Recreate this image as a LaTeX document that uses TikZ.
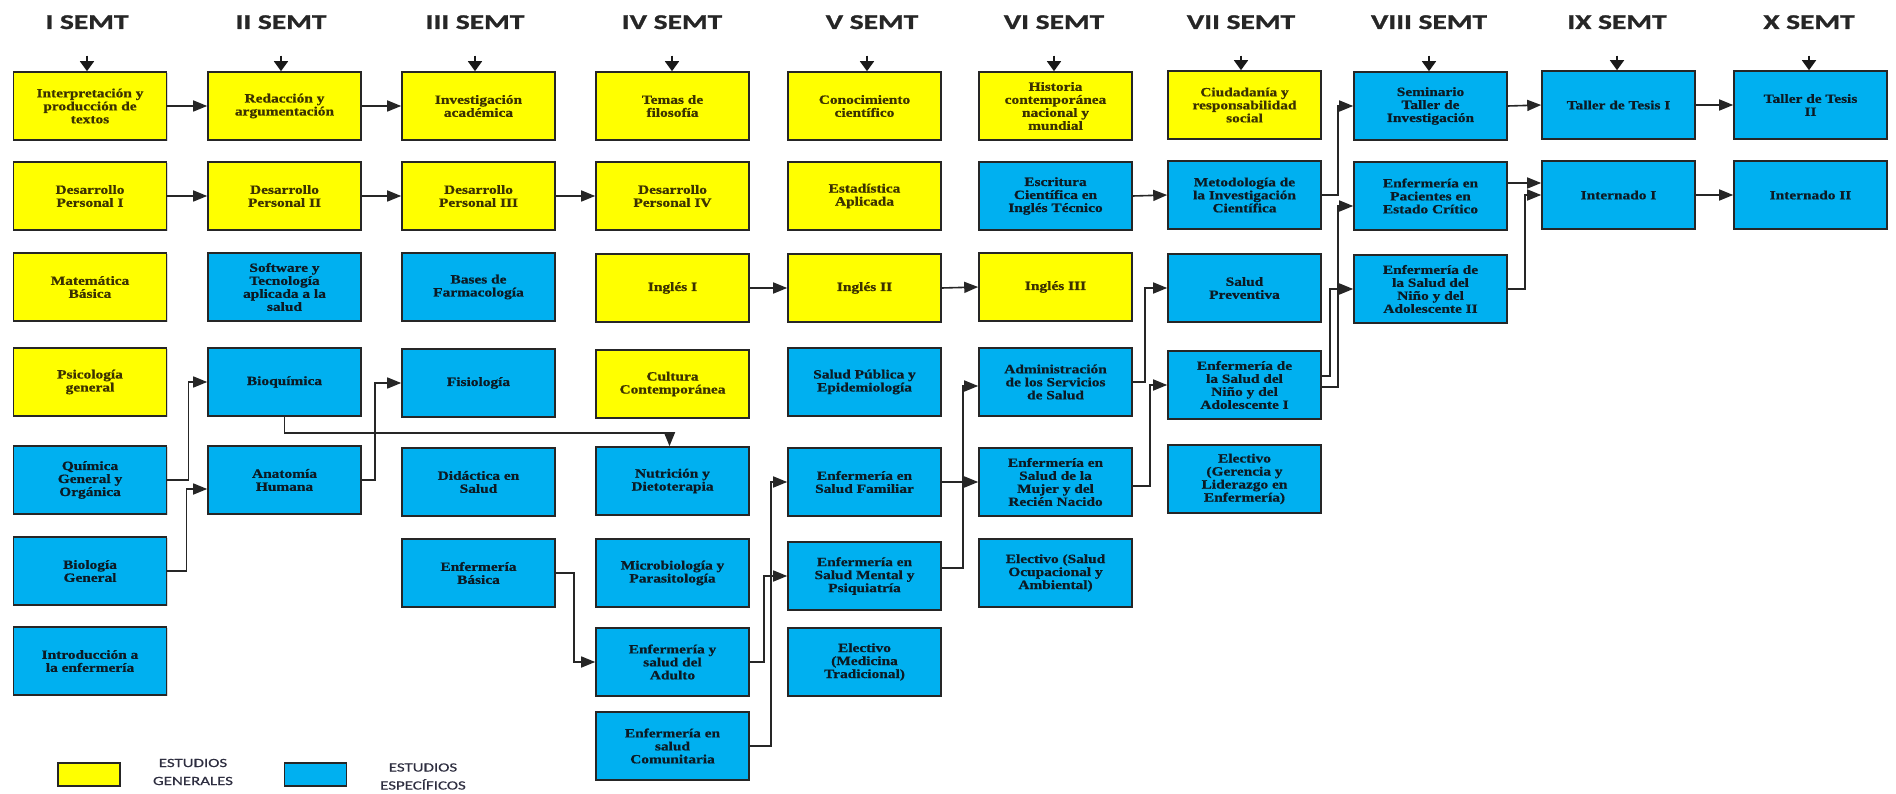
\documentclass[tikz,border=0pt]{standalone}
\usepackage{fontspec}
\setmainfont{Liberation Serif}[FakeStretch=1.22, BoldFeatures={FakeBold=0.8}]
\newfontfamily\semfont{Carlito}[FakeStretch=1.4, BoldFeatures={FakeBold=1.2}]
\newfontfamily\leyfont{Carlito}[FakeStretch=1.35, FakeBold=0.6]
\usetikzlibrary{arrows.meta,shadows}
\definecolor{amarillo}{HTML}{FFFF00}
\definecolor{celeste}{HTML}{00B0F0}
\definecolor{textoamarillo}{HTML}{3C3200}
\definecolor{textocuadro}{HTML}{0C1A24}
\definecolor{textoleyenda}{HTML}{2E2E40}

\begin{document}
\begin{tikzpicture}[x=1pt, y=-1pt,
	curso/.style={rectangle, draw=black!85, line width=1.6pt, minimum width=153pt, minimum height=68pt, inner sep=1pt, align=center, font=\bfseries\fontsize{12.6}{13}\selectfont, drop shadow={shadow xshift=1pt, shadow yshift=-1pt, opacity=0.3}},
	general/.style={curso, fill=amarillo, text=textoamarillo},
	especifico/.style={curso, fill=celeste, text=textocuadro},
	semt/.style={font=\semfont\bfseries\fontsize{21}{24}\selectfont, text=black!85, anchor=base},
	inicio/.style={-{Triangle[width=14pt,length=10pt]}, line width=1.6pt, black!90, shorten <=23pt},
	enlace/.style={-{Triangle[width=11pt,length=14pt]}, line width=1.6pt, black!85},
	muestra/.style={rectangle, draw=black!85, line width=1.6pt, minimum width=62pt, minimum height=23pt},
	leyenda/.style={align=center, text=textoleyenda, font=\leyfont\fontsize{12.5}{18}\selectfont}]
	\useasboundingbox (0,0) rectangle (1896,794);
	% Semestres:
	\node[semt] (semI) at (87,29) {I SEMT};
	\node[semt] (semII) at (281,29) {II SEMT};
	\node[semt] (semIII) at (475,29) {III SEMT};
	\node[semt] (semIV) at (672,29) {IV SEMT};
	\node[semt] (semV) at (872,29) {V SEMT};
	\node[semt] (semVI) at (1054,29) {VI SEMT};
	\node[semt] (semVII) at (1241,29) {VII SEMT};
	\node[semt] (semVIII) at (1429,29) {VIII SEMT};
	\node[semt] (semIX) at (1617,29) {IX SEMT};
	\node[semt] (semX) at (1809,29) {X SEMT};
	% I semestre:
	\node[general] (interp) at (90,106) {Interpretación y\\producción de\\textos};
	\node[general] (dpI) at (90,196) {Desarrollo\\Personal I};
	\node[general] (mate) at (90,287) {Matemática\\Básica};
	\node[general] (psico) at (90,382) {Psicología\\general};
	\node[especifico] (quim) at (90,480) {Química\\General y\\Orgánica};
	\node[especifico] (biol) at (90,571) {Biología\\General};
	\node[especifico] (intro) at (90,661) {Introducción a\\la enfermería};
	% II semestre:
	\node[general] (redac) at (284.5,106) {Redacción y\\argumentación};
	\node[general] (dpII) at (284.5,196) {Desarrollo\\Personal II};
	\node[especifico] (soft) at (284.5,287) {Software y\\Tecnología\\aplicada a la\\salud};
	\node[especifico] (bioq) at (284.5,382) {Bioquímica};
	\node[especifico] (anat) at (284.5,480) {Anatomía\\Humana};
	% III semestre:
	\node[general] (invest) at (478.5,106) {Investigación\\académica};
	\node[general] (dpIII) at (478.5,196) {Desarrollo\\Personal III};
	\node[especifico] (bases) at (478.5,287) {Bases de\\Farmacología};
	\node[especifico] (fisio) at (478.5,383) {Fisiología};
	\node[especifico] (didac) at (478.5,482) {Didáctica en\\Salud};
	\node[especifico] (basica) at (478.5,573) {Enfermería\\Básica};
	% IV semestre:
	\node[general] (temas) at (672.5,106) {Temas de\\filosofía};
	\node[general] (dpIV) at (672.5,196) {Desarrollo\\Personal IV};
	\node[general] (inglesI) at (672.5,288) {Inglés I};
	\node[general] (cultura) at (672.5,384) {Cultura\\Contemporánea};
	\node[especifico] (nutri) at (672.5,481) {Nutrición y\\Dietoterapia};
	\node[especifico] (micro) at (672.5,573) {Microbiología y\\Parasitología};
	\node[especifico] (adulto) at (672.5,662) {Enfermería y\\salud del\\Adulto};
	\node[especifico] (comun) at (672.5,746) {Enfermería en\\salud\\Comunitaria};
	% V semestre:
	\node[general] (conoc) at (864.5,106) {Conocimiento\\científico};
	\node[general] (estad) at (864.5,196) {Estadística\\Aplicada};
	\node[general] (inglesII) at (864.5,288) {Inglés II};
	\node[especifico] (spub) at (864.5,382) {Salud Pública y\\Epidemiología};
	\node[especifico] (familiar) at (864.5,482) {Enfermería en\\Salud Familiar};
	\node[especifico] (mental) at (864.5,576) {Enfermería en\\Salud Mental y\\Psiquiatría};
	\node[especifico] (medic) at (864.5,662) {Electivo\\(Medicina\\Tradicional)};
	% VI semestre:
	\node[general] (hist) at (1055.5,106) {Historia\\contemporánea\\nacional y\\mundial};
	\node[especifico] (escrit) at (1055.5,196) {Escritura\\Científica en\\Inglés Técnico};
	\node[general] (inglesIII) at (1055.5,287) {Inglés III};
	\node[especifico] (admin) at (1055.5,382) {Administración\\de los Servicios\\de Salud};
	\node[especifico] (mujer) at (1055.5,482) {Enfermería en\\Salud de la\\Mujer y del\\Recién Nacido};
	\node[especifico] (ocup) at (1055.5,573) {Electivo (Salud\\Ocupacional y\\Ambiental)};
	% VII semestre:
	\node[general] (ciud) at (1244.5,105) {Ciudadanía y\\responsabilidad\\social};
	\node[especifico] (metod) at (1244.5,195) {Metodología de\\la Investigación\\Científica};
	\node[especifico] (prev) at (1244.5,288) {Salud\\Preventiva};
	\node[especifico] (ninoI) at (1244.5,385) {Enfermería de\\la Salud del\\Niño y del\\Adolescente I};
	\node[especifico] (geren) at (1244.5,479) {Electivo\\(Gerencia y\\Liderazgo en\\Enfermería)};
	% VIII semestre:
	\node[especifico] (semin) at (1430.5,106) {Seminario\\Taller de\\Investigación};
	\node[especifico] (pacien) at (1430.5,196) {Enfermería en\\Pacientes en\\Estado Crítico};
	\node[especifico] (ninoII) at (1430.5,289) {Enfermería de\\la Salud del\\Niño y del\\Adolescente II};
	% IX y X semestre:
	\node[especifico] (tesisI) at (1618.5,105) {Taller de Tesis I};
	\node[especifico] (interI) at (1618.5,195) {Internado I};
	\node[especifico] (tesisII) at (1810.5,105) {Taller de Tesis\\II};
	\node[especifico] (interII) at (1810.5,195) {Internado II};
	% Flechas de inicio:
	\draw[inicio] (semI.south) -- (semI.south |- interp.north);
	\draw[inicio] (semII.south) -- (semII.south |- redac.north);
	\draw[inicio] (semIII.south) -- (semIII.south |- invest.north);
	\draw[inicio] (semIV.south) -- (semIV.south |- temas.north);
	\draw[inicio] ([xshift=-5pt]semV.south) -- ([xshift=-5pt]semV.south |- conoc.north);
	\draw[inicio] (semVI.south) -- (semVI.south |- hist.north);
	\draw[inicio] (semVII.south) -- (semVII.south |- ciud.north);
	\draw[inicio] (semVIII.south) -- (semVIII.south |- semin.north);
	\draw[inicio] (semIX.south) -- (semIX.south |- tesisI.north);
	\draw[inicio] (semX.south) -- (semX.south |- tesisII.north);
	% Prerrequisitos:
	\draw[enlace] (interp.east) -- (redac.west);
	\draw[enlace] (redac.east) -- (invest.west);
	\draw[enlace] (dpI.east) -- (dpII.west);
	\draw[enlace] (dpII.east) -- (dpIII.west);
	\draw[enlace] (dpIII.east) -- (dpIV.west);
	\draw[enlace] (inglesI.east) -- (inglesII.west);
	\draw[enlace] (inglesII.east) -- (inglesIII.west);
	\draw[enlace] (escrit.east) -- (metod.west);
	\draw[enlace] (semin.east) -- (tesisI.west);
	\draw[enlace] (tesisI.east) -- (tesisII.west);
	\draw[enlace] (interI.east) -- (interII.west);
	\draw[enlace] (familiar.east) -- (mujer.west);
	\draw[enlace] (quim.east) -- ++(21,0) |- (bioq.west);
	\draw[enlace] (biol.east) -- ++(19,0) |- ([yshift=-9pt]anat.west);
	\draw[enlace] (anat.east) -- ++(13,0) |- (fisio.west);
	\draw[enlace] (bioq.south) -- ++(0,16) -| ([xshift=-3pt]nutri.north);
	\draw[enlace] (basica.east) -- ++(18,0) |- (adulto.west);
	\draw[enlace] (adulto.east) -- ++(14,0) |- (mental.west);
	\draw[enlace] (comun.east) -- ++(21,0) |- (familiar.west);
	\draw[enlace] ([yshift=8pt]mental.east) -- ++(21,0) |- ([yshift=-4pt]admin.west);
	\draw[enlace] (admin.east) -- ++(12,0) |- (prev.west);
	\draw[enlace] ([yshift=-4pt]mujer.east) -- ++(17,0) |- (ninoI.west);
	\draw[enlace] (metod.east) -- ++(16,0) |- (semin.west);
	\draw[enlace] ([yshift=9pt]ninoI.east) -- ++(8,0) |- (ninoII.west);
	\draw[enlace] ([yshift=-2pt]ninoI.east) -- ++(16,0) |- ([yshift=-10pt]pacien.west);
	\draw[enlace] ([yshift=13pt]pacien.east) -- ([yshift=13pt]pacien.east -| interI.west);
	\draw[enlace] (ninoII.east) -- ++(17,0) |- (interI.west);
	% Leyenda:
	\node[muestra, fill=amarillo] (legGen) at (89,774.5) {};
	\node[leyenda] (legGenTxt) at (193,772) {ESTUDIOS\\GENERALES};
	\node[muestra, fill=celeste] (legEsp) at (315.5,774.5) {};
	\node[leyenda] (legEspTxt) at (423,776.5) {ESTUDIOS\\ESPECÍFICOS};
\end{tikzpicture}
\end{document}
